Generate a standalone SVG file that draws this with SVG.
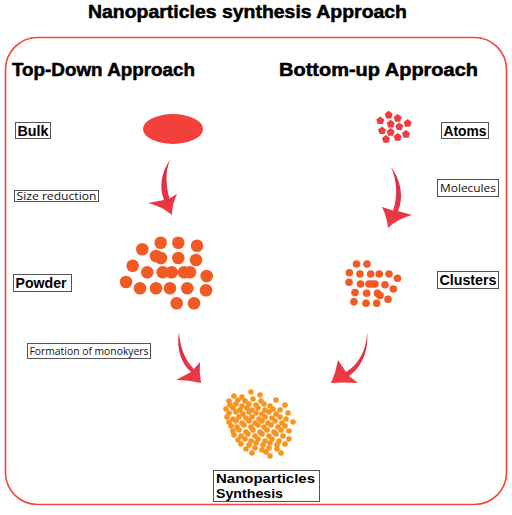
<svg xmlns="http://www.w3.org/2000/svg" width="512" height="515" viewBox="0 0 512 515">
<style>
.title{font-family:"Liberation Sans",Arial,sans-serif;font-weight:900;font-size:18px;fill:#000;stroke:#000;stroke-width:0.5}
.head{font-family:"Liberation Sans",Arial,sans-serif;font-weight:bold;font-size:18px;fill:#000;stroke:#000;stroke-width:0.5}
.lbl{font-family:"Liberation Sans",Arial,sans-serif;font-weight:bold;font-size:14px;fill:#000}
.lbl2{font-family:"Liberation Sans",Arial,sans-serif;font-weight:bold;font-size:13px;fill:#000}
.small{font-family:"Open Sans","Liberation Sans",sans-serif;font-size:11px;fill:#111}
.box{fill:#fff;stroke:#555;stroke-width:1}
.p{fill:#f15a24}
.c{fill:#f15a24}
.n{fill:#f7941d}
.a{fill:#f03c3c}
.arrow{fill:url(#ag)}
</style>
<defs>
<linearGradient id="ag" x1="0" y1="0" x2="0" y2="1">
<stop offset="0" stop-color="#d42a4c"/>
<stop offset="1" stop-color="#ee3a42"/>
</linearGradient>
<polygon id="pent" points="0,-4.2 4,-1.3 2.5,3.4 -2.5,3.4 -4,-1.3"/>
</defs>
<rect width="512" height="515" fill="#fff"/>
<g id="title"><text class="title" x="88" y="18" textLength="319" lengthAdjust="spacingAndGlyphs">Nanoparticles synthesis Approach</text></g>
<g id="frame"><rect x="5.5" y="37.5" width="501" height="467" rx="32" ry="32" fill="none" stroke="#f0483e" stroke-width="1.6"/></g>
<g id="heading-topdown"><text class="head" x="12" y="76" textLength="183" lengthAdjust="spacingAndGlyphs">Top-Down Approach</text></g>
<g id="heading-bottomup"><text class="head" x="279" y="76" textLength="199" lengthAdjust="spacingAndGlyphs">Bottom-up Approach</text></g>

<g id="bulk">
<rect class="box" x="15.5" y="122.5" width="35" height="16"/>
<text class="lbl" x="17.5" y="135.5" textLength="31" lengthAdjust="spacingAndGlyphs">Bulk</text>
<ellipse cx="173" cy="129" rx="30" ry="15" fill="#f2403a"/>
</g>

<g id="size-reduction">
<rect class="box" x="14.5" y="190.5" width="84" height="11"/>
<text class="small" x="16.5" y="200" textLength="80" lengthAdjust="spacingAndGlyphs">Size reduction</text>
</g>

<g id="powder">
<rect class="box" x="13.5" y="274.5" width="58" height="17"/>
<text class="lbl" x="15.5" y="288" textLength="51" lengthAdjust="spacingAndGlyphs">Powder</text>
<g class="p">
<circle cx="142.3" cy="249.3" r="6.3"/><circle cx="160.7" cy="242.7" r="6.3"/><circle cx="178.3" cy="242.7" r="6.3"/><circle cx="197" cy="245.7" r="6.3"/>
<circle cx="156" cy="256" r="6.3"/><circle cx="161" cy="258" r="6.3"/><circle cx="178.3" cy="258" r="6.3"/><circle cx="196" cy="260" r="6.3"/>
<circle cx="132.7" cy="265.7" r="6.3"/><circle cx="147.3" cy="272.3" r="6.3"/><circle cx="162.7" cy="272.3" r="6.3"/><circle cx="171.7" cy="272.3" r="6.3"/>
<circle cx="184" cy="272.3" r="6.3"/><circle cx="190" cy="272.3" r="6.3"/><circle cx="206.7" cy="276" r="6.3"/>
<circle cx="126" cy="282" r="6.3"/><circle cx="140" cy="288.3" r="6.3"/><circle cx="156" cy="288.3" r="6.3"/><circle cx="170" cy="288.3" r="6.3"/><circle cx="187.3" cy="288.3" r="6.3"/><circle cx="206" cy="290.3" r="6.3"/>
<circle cx="176.7" cy="303.3" r="6.3"/><circle cx="194" cy="303.3" r="6.3"/>
</g>
</g>

<g id="formation">
<rect class="box" x="27.5" y="343.5" width="123" height="15"/>
<text class="small" x="29.5" y="355" textLength="119" lengthAdjust="spacingAndGlyphs">Formation of monokyers</text>
</g>

<g id="atoms">
<rect class="box" x="441.5" y="122.5" width="47" height="16"/>
<text class="lbl" x="443.5" y="135.5" textLength="43" lengthAdjust="spacingAndGlyphs">Atoms</text>
<g class="a">
<use href="#pent" x="388.7" y="115"/><use href="#pent" x="397.7" y="118.3"/><use href="#pent" x="380.3" y="120.7"/><use href="#pent" x="407.7" y="123.3"/>
<use href="#pent" x="390.7" y="124"/><use href="#pent" x="399.3" y="126.7"/><use href="#pent" x="382" y="130.7"/><use href="#pent" x="390.7" y="132.3"/>
<use href="#pent" x="406" y="134.3"/><use href="#pent" x="397.7" y="137.3"/><use href="#pent" x="386" y="139.3"/>
</g>
</g>

<g id="molecules">
<rect class="box" x="437.5" y="179.5" width="61" height="17"/>
<text class="small" x="440" y="192" textLength="56" lengthAdjust="spacingAndGlyphs">Molecules</text>
</g>

<g id="clusters">
<rect class="box" x="437.5" y="271.5" width="61" height="17"/>
<text class="lbl" x="439.5" y="285" textLength="57" lengthAdjust="spacingAndGlyphs">Clusters</text>
<g class="c">
<circle cx="356.5" cy="264" r="3.8"/><circle cx="367" cy="264" r="3.8"/><circle cx="349.3" cy="272.7" r="3.8"/><circle cx="360" cy="274" r="3.8"/>
<circle cx="370.7" cy="274" r="3.8"/><circle cx="379.3" cy="274" r="3.8"/><circle cx="389" cy="274" r="3.8"/><circle cx="397.5" cy="278.3" r="3.8"/>
<circle cx="349" cy="282.3" r="3.8"/><circle cx="360.5" cy="284" r="3.8"/><circle cx="369" cy="284" r="3.8"/><circle cx="372" cy="284" r="3.8"/><circle cx="375" cy="284" r="3.8"/>
<circle cx="385" cy="284.7" r="3.8"/><circle cx="393.3" cy="289" r="3.8"/><circle cx="355" cy="292.5" r="3.8"/><circle cx="366.7" cy="293.3" r="3.8"/>
<circle cx="377.5" cy="293.3" r="3.8"/><circle cx="380" cy="295.5" r="3.8"/><circle cx="388" cy="299.3" r="3.8"/><circle cx="354" cy="301.7" r="3.8"/>
<circle cx="366" cy="303.3" r="3.8"/><circle cx="376.7" cy="303.3" r="3.8"/>
</g>
</g>

<g id="nanoparticles">
<rect class="box" x="213.5" y="470.5" width="106" height="31"/>
<text class="lbl2" x="216" y="482.5" textLength="99" lengthAdjust="spacingAndGlyphs">Nanoparticles</text>
<text class="lbl2" x="216" y="498" textLength="67" lengthAdjust="spacingAndGlyphs">Synthesis</text>
<g class="n">
<circle cx="251" cy="392" r="2.8"/>
<circle cx="234" cy="396" r="2.8"/><circle cx="242" cy="397" r="2.8"/><circle cx="260" cy="395" r="2.8"/>
<circle cx="229" cy="401" r="2.8"/><circle cx="238" cy="400" r="2.8"/><circle cx="245" cy="401" r="2.8"/><circle cx="253" cy="399" r="2.8"/><circle cx="261" cy="401" r="2.8"/><circle cx="276" cy="400" r="2.8"/>
<circle cx="230" cy="405" r="2.8"/><circle cx="236" cy="404" r="2.8"/><circle cx="242" cy="406" r="2.8"/><circle cx="249" cy="404" r="2.8"/><circle cx="256" cy="405" r="2.8"/><circle cx="264" cy="404" r="2.8"/><circle cx="270" cy="406" r="2.8"/><circle cx="285" cy="405" r="2.8"/>
<circle cx="226" cy="409" r="2.8"/><circle cx="233" cy="408" r="2.8"/><circle cx="240" cy="410" r="2.8"/><circle cx="247" cy="408" r="2.8"/><circle cx="252" cy="410" r="2.8"/><circle cx="258" cy="408" r="2.8"/><circle cx="265" cy="410" r="2.8"/><circle cx="273" cy="409" r="2.8"/><circle cx="280" cy="410" r="2.8"/>
<circle cx="229" cy="413" r="2.8"/><circle cx="236" cy="412" r="2.8"/><circle cx="243" cy="414" r="2.8"/><circle cx="249" cy="412" r="2.8"/><circle cx="256" cy="413" r="2.8"/><circle cx="262" cy="414" r="2.8"/><circle cx="269" cy="412" r="2.8"/><circle cx="276" cy="414" r="2.8"/><circle cx="288" cy="413" r="2.8"/>
<circle cx="227" cy="417" r="2.8"/><circle cx="233" cy="419" r="2.8"/><circle cx="239" cy="417" r="2.8"/><circle cx="246" cy="418" r="2.8"/><circle cx="252" cy="417" r="2.8"/><circle cx="259" cy="419" r="2.8"/><circle cx="265" cy="417" r="2.8"/><circle cx="272" cy="418" r="2.8"/><circle cx="280" cy="417" r="2.8"/><circle cx="286" cy="419" r="2.8"/>
<circle cx="229" cy="422" r="2.8"/><circle cx="236" cy="421" r="2.8"/><circle cx="242" cy="423" r="2.8"/><circle cx="249" cy="421" r="2.8"/><circle cx="255" cy="423" r="2.8"/><circle cx="262" cy="421" r="2.8"/><circle cx="268" cy="423" r="2.8"/><circle cx="275" cy="421" r="2.8"/><circle cx="282" cy="423" r="2.8"/><circle cx="293" cy="422" r="2.8"/>
<circle cx="231" cy="426" r="2.8"/><circle cx="237" cy="427" r="2.8"/><circle cx="244" cy="425" r="2.8"/><circle cx="251" cy="427" r="2.8"/><circle cx="258" cy="425" r="2.8"/><circle cx="264" cy="427" r="2.8"/><circle cx="271" cy="425" r="2.8"/><circle cx="278" cy="427" r="2.8"/><circle cx="285" cy="426" r="2.8"/>
<circle cx="233" cy="431" r="2.8"/><circle cx="239" cy="430" r="2.8"/><circle cx="246" cy="432" r="2.8"/><circle cx="253" cy="430" r="2.8"/><circle cx="260" cy="432" r="2.8"/><circle cx="267" cy="430" r="2.8"/><circle cx="274" cy="432" r="2.8"/><circle cx="281" cy="430" r="2.8"/><circle cx="289" cy="431" r="2.8"/>
<circle cx="234" cy="435" r="2.8"/><circle cx="241" cy="436" r="2.8"/><circle cx="248" cy="434" r="2.8"/><circle cx="255" cy="436" r="2.8"/><circle cx="262" cy="434" r="2.8"/><circle cx="269" cy="436" r="2.8"/><circle cx="276" cy="434" r="2.8"/><circle cx="283" cy="436" r="2.8"/>
<circle cx="238" cy="440" r="2.8"/><circle cx="245" cy="439" r="2.8"/><circle cx="251" cy="441" r="2.8"/><circle cx="258" cy="439" r="2.8"/><circle cx="265" cy="441" r="2.8"/><circle cx="272" cy="439" r="2.8"/><circle cx="279" cy="441" r="2.8"/><circle cx="289" cy="439" r="2.8"/>
<circle cx="241" cy="444" r="2.8"/><circle cx="249" cy="445" r="2.8"/><circle cx="256" cy="443" r="2.8"/><circle cx="263" cy="445" r="2.8"/><circle cx="270" cy="443" r="2.8"/><circle cx="277" cy="445" r="2.8"/><circle cx="285" cy="444" r="2.8"/>
<circle cx="246" cy="449" r="2.8"/><circle cx="255" cy="448" r="2.8"/><circle cx="262" cy="450" r="2.8"/><circle cx="269" cy="448" r="2.8"/><circle cx="277" cy="449" r="2.8"/>
<circle cx="252" cy="453" r="2.8"/><circle cx="266" cy="452" r="2.8"/><circle cx="281" cy="453" r="2.8"/>
<circle cx="270" cy="456" r="2.8"/>
</g>
</g>

<g id="connectors">
<path class="arrow" d="M170,160 C161,172 159,188 164,200 L148,203 Q161,206 172,215 Q172,204 177,194 L169.5,198.5 C166,186 165,172 170,160 Z"/>
<path class="arrow" d="M391,167 C401,180 404,198 398,211 L412,215 Q397,219 388,228 Q387,217 382,207 L393,210.5 C398,197 397,180 391,167 Z"/>
<path class="arrow" d="M179,332 C176,350 182,364 191,372 L176,380 Q189,380 201,383 Q199,372 200,362 L194,369 C185,360 180,348 179,332 Z"/>
<path class="arrow" d="M367,332 C367,350 358,365 346,372 L338,360 Q336,372 331,383 Q344,382 358,383 L349,376 C362,367 369,350 367,332 Z"/>
</g>
</svg>
